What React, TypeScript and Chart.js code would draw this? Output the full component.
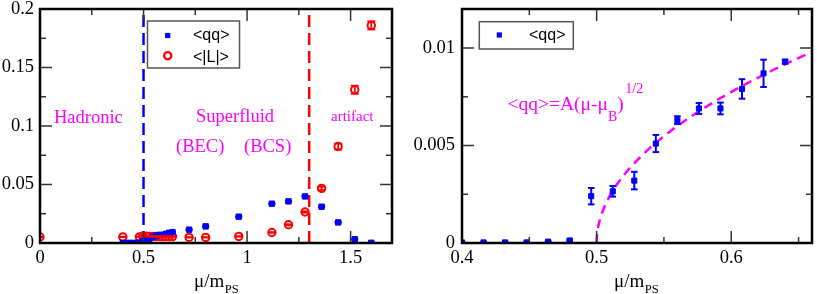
import React, { useEffect, useRef } from "react";
import { Chart, registerables } from "chart.js";
Chart.register(...registerables);

// ---------------- data ----------------
const MU_FINE = [0.4, 0.416, 0.432, 0.448, 0.464, 0.48, 0.496, 0.512, 0.528, 0.544, 0.56, 0.576, 0.592, 0.608, 0.624, 0.64];
const QQ_FINE = [0.00003, 0.00003, 0.00003, 0.00003, 0.00007, 0.00013, 0.0024, 0.00265, 0.0032, 0.0051, 0.0063, 0.0069, 0.0069, 0.0079, 0.0087, 0.0093];
const QQ_FINE_ERR = [0.00002, 0.00002, 0.00002, 0.00002, 0.00003, 0.00005, 0.00042, 0.00027, 0.00045, 0.00044, 0.0002, 0.00028, 0.0003, 0.0005, 0.0007, 0.0001];
const MU_COARSE = [0.72, 0.8, 0.96, 1.12, 1.2, 1.28, 1.36, 1.44, 1.52, 1.6];
const QQ_COARSE = [0.0114, 0.0142, 0.0225, 0.0336, 0.0356, 0.0398, 0.031, 0.0176, 0.0032, 0.0002];
const QQ_COARSE_ERR = [0.0003, 0.0003, 0.0004, 0.0005, 0.0005, 0.0005, 0.0005, 0.0004, 0.0003, 0.0002];
const MU_L = [0, 0.4, 0.48, 0.496, 0.512, 0.528, 0.544, 0.56, 0.576, 0.592, 0.608, 0.624, 0.64, 0.72, 0.8, 0.96, 1.12, 1.2, 1.28, 1.36, 1.44, 1.52, 1.6];
const L_VALUES = [0.0051, 0.0052, 0.0052, 0.0058, 0.0058, 0.0057, 0.0057, 0.0056, 0.0056, 0.0055, 0.0055, 0.0055, 0.0055, 0.0048, 0.0048, 0.0056, 0.009, 0.0156, 0.0265, 0.0467, 0.0825, 0.131, 0.186];
const L_ERR = [0.0002, 0.0002, 0.0002, 0.0002, 0.0002, 0.0002, 0.0002, 0.0002, 0.0002, 0.0002, 0.0002, 0.0002, 0.0002, 0.0002, 0.0002, 0.0002, 0.0003, 0.0004, 0.0006, 0.0014, 0.0025, 0.0035, 0.0035];

const FIT_A = 0.0245;
const FIT_MU_B = 0.5;
const FIT_T = [0, 0.005, 0.01, 0.02, 0.04, 0.07, 0.1, 0.15, 0.2, 0.25, 0.3, 0.35, 0.4, 0.45, 0.5, 0.55, 0.6, 0.65, 0.7, 0.75, 0.8, 0.85, 0.9, 0.95, 1];

const VLINE_BLUE = 0.5;
const VLINE_RED = 1.3;

const LEFT_X_TICKS = [0, 0.5, 1, 1.5];
const LEFT_X_MINOR = [0.25, 0.75, 1.25];
const LEFT_Y_TICKS = [0, 0.05, 0.1, 0.15, 0.2];
const LEFT_Y_MINOR = [0.025, 0.075, 0.125, 0.175];
const RIGHT_X_TICKS = [0.4, 0.5, 0.6];
const RIGHT_X_MINOR = [0.45, 0.55, 0.65];
const RIGHT_Y_TICKS = [0, 0.005, 0.01];
const RIGHT_Y_MINOR = [0.0025, 0.0075];

const LABEL_QQ = "<qq>";
const LABEL_L = "<|L|>";
const AXIS_MAIN = "μ/m";
const AXIS_SUB = "PS";

// ---------------- styles ----------------
const SERIF = "'Liberation Serif', 'Times New Roman', serif";
const SANS = "'Liberation Sans', Arial, sans-serif";
const BLUE = "#0000ff";
const RED = "#ff0000";
const MAGENTA = "#ff00ff";

const fmt = (v: any) => String(parseFloat(Number(v).toFixed(6)));

function axisOpts(min: number, max: number, ticks: number[], size: number, isX: boolean, pad: number) {
  return {
    type: "linear",
    min,
    max,
    afterBuildTicks: (s: any) => {
      s.ticks = ticks.map((v) => ({ value: v }));
    },
    afterFit: (s: any) => {
      if (isX) s.height = size;
      else s.width = size;
      s.paddingLeft = 0;
      s.paddingRight = 0;
      s.paddingTop = 0;
      s.paddingBottom = 0;
    },
    grid: { display: false, drawTicks: false },
    border: { display: false },
    ticks: {
      font: { family: SERIF, size: 18.5 },
      color: "#000",
      padding: pad,
      maxRotation: 0,
      minRotation: 0,
      autoSkip: false,
      callback: (v: any) => fmt(v),
    },
  };
}

function line(ctx: CanvasRenderingContext2D, x1: number, y1: number, x2: number, y2: number) {
  ctx.beginPath();
  ctx.moveTo(x1, y1);
  ctx.lineTo(x2, y2);
  ctx.stroke();
}

function decorPlugin(spec: any) {
  return {
    id: "decor",
    beforeDatasetsDraw(chart: any) {
      const { ctx, chartArea: a, scales } = chart;
      ctx.save();
      ctx.beginPath();
      ctx.rect(a.left, a.top, a.right - a.left, a.bottom - a.top);
      ctx.clip();
      for (const vl of spec.vlines || []) {
        const px = scales.x.getPixelForValue(vl.x);
        ctx.strokeStyle = vl.color;
        ctx.lineWidth = 2.5;
        ctx.setLineDash(vl.dash);
        line(ctx, px, a.bottom, px, a.top);
      }
      ctx.restore();
    },
    afterDatasetsDraw(chart: any) {
      const { ctx, chartArea: a, scales } = chart;
      const xs = scales.x;
      const ys = scales.y;
      // error bars
      ctx.save();
      ctx.beginPath();
      ctx.rect(a.left, a.top, a.right - a.left, a.bottom - a.top);
      ctx.clip();
      chart.data.datasets.forEach((ds: any, di: number) => {
        if (!ds.errors) return;
        const meta = chart.getDatasetMeta(di);
        ctx.strokeStyle = ds.errColor;
        ctx.lineWidth = ds.errWidth;
        ds.data.forEach((pt: any, i: number) => {
          const e = ds.errors[i];
          if (!e) return;
          const el = meta.data[i];
          const yt = ys.getPixelForValue(pt.y + e);
          const yb = ys.getPixelForValue(pt.y - e);
          line(ctx, el.x, yt, el.x, yb);
          line(ctx, el.x - ds.capHalf, yt, el.x + ds.capHalf, yt);
          line(ctx, el.x - ds.capHalf, yb, el.x + ds.capHalf, yb);
        });
      });
      ctx.restore();

      // frame + ticks
      ctx.save();
      ctx.strokeStyle = "#333";
      ctx.lineWidth = 1.5;
      const drawX = (vals: number[], len: number) => {
        for (const v of vals) {
          if (v <= xs.min || v >= xs.max) continue;
          const p = xs.getPixelForValue(v);
          line(ctx, p, a.bottom, p, a.bottom - len);
          line(ctx, p, a.top, p, a.top + len);
        }
      };
      const drawY = (vals: number[], len: number) => {
        for (const v of vals) {
          if (v <= ys.min || v >= ys.max) continue;
          const p = ys.getPixelForValue(v);
          line(ctx, a.left, p, a.left + len, p);
          line(ctx, a.right, p, a.right - len, p);
        }
      };
      drawX(spec.xMajor, 12);
      drawX(spec.xMinor, 6);
      drawY(spec.yMajor, 12);
      drawY(spec.yMinor, 6);
      ctx.strokeStyle = "#000";
      ctx.lineWidth = 2.5;
      ctx.strokeRect(a.left, a.top, a.right - a.left, a.bottom - a.top);
      ctx.restore();

      // annotations
      ctx.save();
      ctx.fillStyle = MAGENTA;
      ctx.textBaseline = "alphabetic";
      ctx.textAlign = "left";
      for (const t of spec.texts || []) {
        ctx.font = `${t.size}px ${SERIF}`;
        ctx.fillText(t.text, t.x, t.y);
      }
      if (spec.formula) {
        const f = spec.formula;
        let x = f.x;
        for (const part of f.parts) {
          ctx.font = `${part.size}px ${SERIF}`;
          ctx.fillText(part.text, x, f.y + part.dy);
          x += ctx.measureText(part.text).width + (part.gap || 0);
        }
      }
      ctx.restore();

      // legend
      const lg = spec.legend;
      ctx.save();
      ctx.fillStyle = "#fff";
      ctx.fillRect(lg.x, lg.y, lg.w, lg.h);
      ctx.strokeStyle = "#555";
      ctx.lineWidth = 1.5;
      ctx.strokeRect(lg.x, lg.y, lg.w, lg.h);
      for (const it of lg.items) {
        if (it.marker === "square") {
          ctx.fillStyle = BLUE;
          ctx.fillRect(it.mx - 2.6, it.my - 2.6, 5.2, 5.2);
        } else {
          ctx.strokeStyle = RED;
          ctx.lineWidth = 2.3;
          ctx.beginPath();
          ctx.arc(it.mx, it.my, 3.6, 0, Math.PI * 2);
          ctx.stroke();
        }
        ctx.fillStyle = "#000";
        ctx.font = `16px ${SANS}`;
        ctx.textBaseline = "alphabetic";
        ctx.fillText(it.text, it.tx, it.ty);
      }
      ctx.restore();
    },
    afterDraw(chart: any) {
      const { ctx } = chart;
      const t = spec.title;
      ctx.save();
      ctx.fillStyle = "#000";
      ctx.textBaseline = "alphabetic";
      ctx.textAlign = "left";
      ctx.font = `19px ${SERIF}`;
      ctx.fillText(AXIS_MAIN, t.x, t.y);
      const w = ctx.measureText(AXIS_MAIN).width;
      ctx.font = `12.5px ${SERIF}`;
      ctx.fillText(AXIS_SUB, t.x + w + 0.5, t.y + 6);
      ctx.restore();
    },
  };
}

function baseOptions(xAxis: any, yAxis: any, padRight: number) {
  return {
    responsive: false,
    animation: false,
    events: [],
    layout: { padding: { left: 0, top: 9, right: padRight, bottom: 0 } },
    plugins: { legend: { display: false }, tooltip: { enabled: false }, title: { display: false } },
    scales: { x: xAxis, y: yAxis },
  };
}

function leftConfig(): any {
  const qqData = MU_FINE.map((x, i) => ({ x, y: QQ_FINE[i] })).concat(MU_COARSE.map((x, i) => ({ x, y: QQ_COARSE[i] })));
  const qqErr = QQ_FINE_ERR.concat(QQ_COARSE_ERR);
  const lData = MU_L.map((x, i) => ({ x, y: L_VALUES[i] }));
  return {
    type: "scatter",
    data: {
      datasets: [
        {
          label: LABEL_QQ,
          data: qqData,
          order: 0,
          pointStyle: "rect",
          pointRadius: 3.8,
          pointBorderWidth: 1,
          pointBackgroundColor: BLUE,
          pointBorderColor: BLUE,
          showLine: false,
          errors: qqErr,
          errColor: BLUE,
          errWidth: 1.5,
          capHalf: 3.5,
        },
        {
          label: LABEL_L,
          data: lData,
          order: 1,
          pointStyle: "circle",
          pointRadius: 3.7,
          pointBorderWidth: 2,
          pointBackgroundColor: "rgba(255,255,255,0)",
          pointBorderColor: RED,
          showLine: false,
          errors: L_ERR,
          errColor: RED,
          errWidth: 1.8,
          capHalf: 4,
        },
      ],
    },
    options: baseOptions(axisOpts(0, 1.7, LEFT_X_TICKS, 51, true, 4), axisOpts(0, 0.2, LEFT_Y_TICKS, 40, false, 6), 18),
    plugins: [
      decorPlugin({
        xMajor: LEFT_X_TICKS,
        xMinor: LEFT_X_MINOR,
        yMajor: LEFT_Y_TICKS,
        yMinor: LEFT_Y_MINOR,
        vlines: [
          { x: VLINE_BLUE, color: BLUE, dash: [12, 6] },
          { x: VLINE_RED, color: RED, dash: [12, 6] },
        ],
        texts: [
          { text: "Hadronic", x: 54, y: 123, size: 18.5 },
          { text: "Superfluid", x: 196, y: 122, size: 18.5 },
          { text: "(BEC)", x: 176, y: 152, size: 18.5 },
          { text: "(BCS)", x: 244, y: 152, size: 18.5 },
          { text: "artifact", x: 331, y: 121, size: 15 },
        ],
        legend: {
          x: 147.5,
          y: 21,
          w: 92,
          h: 47,
          items: [
            { marker: "square", mx: 167.7, my: 35.5, text: LABEL_QQ, tx: 193, ty: 40 },
            { marker: "circle", mx: 167.7, my: 55.7, text: LABEL_L, tx: 193, ty: 61.5 },
          ],
        },
        title: { x: 194, y: 287 },
      }),
    ],
  };
}

function rightConfig(): any {
  const qqData = MU_FINE.map((x, i) => ({ x, y: QQ_FINE[i] }));
  const span = 0.66 - FIT_MU_B;
  const fitData = FIT_T.map((t) => {
    const x = FIT_MU_B + span * t * t;
    return { x, y: FIT_A * Math.sqrt(x - FIT_MU_B) };
  });
  return {
    type: "scatter",
    data: {
      datasets: [
        {
          label: LABEL_QQ,
          data: qqData,
          order: 0,
          pointStyle: "rect",
          pointRadius: 3.6,
          pointBorderWidth: 1,
          pointBackgroundColor: BLUE,
          pointBorderColor: BLUE,
          showLine: false,
          errors: QQ_FINE_ERR,
          errColor: BLUE,
          errWidth: 2,
          capHalf: 3.3,
        },
        {
          label: "fit",
          data: fitData,
          order: 1,
          showLine: true,
          borderColor: MAGENTA,
          borderWidth: 2.5,
          borderDash: [9, 6],
          pointRadius: 0,
          fill: false,
          tension: 0,
        },
      ],
    },
    options: baseOptions(axisOpts(0.4, 0.66, RIGHT_X_TICKS, 51, true, 4), axisOpts(0, 0.012, RIGHT_Y_TICKS, 52, false, 7), 3),
    plugins: [
      decorPlugin({
        xMajor: RIGHT_X_TICKS,
        xMinor: RIGHT_X_MINOR,
        yMajor: RIGHT_Y_TICKS,
        yMinor: RIGHT_Y_MINOR,
        vlines: [],
        texts: [],
        formula: {
          x: 97.5,
          y: 110,
          parts: [
            { text: "<qq>=A(μ-μ", size: 19.5, dy: 0 },
            { text: "B", size: 14, dy: 11 },
            { text: ")", size: 19.5, dy: 0, gap: 1.5 },
            { text: "1/2", size: 14, dy: -17 },
          ],
        },
        legend: {
          x: 69.3,
          y: 21.7,
          w: 94,
          h: 27.3,
          items: [{ marker: "square", mx: 89.3, my: 35, text: LABEL_QQ, tx: 119, ty: 40 }],
        },
        title: { x: 204, y: 287 },
      }),
    ],
  };
}

function Panel({ make, left, width, height }: { make: () => any; left: number; width: number; height: number }) {
  const ref = useRef<HTMLCanvasElement>(null);
  useEffect(() => {
    const chart = new Chart(ref.current as HTMLCanvasElement, make());
    return () => chart.destroy();
  }, []);
  return (
    <canvas
      ref={ref}
      width={width}
      height={height}
      style={{ position: "absolute", left, top: 0, width, height, display: "block" }}
    />
  );
}

export default function App() {
  return (
    <div style={{ position: "absolute", left: 0, top: 0, width: 817, height: 294, background: "#fff", overflow: "hidden" }}>
      <Panel make={leftConfig} left={0} width={410} height={294} />
      <Panel make={rightConfig} left={410} width={407} height={294} />
    </div>
  );
}
